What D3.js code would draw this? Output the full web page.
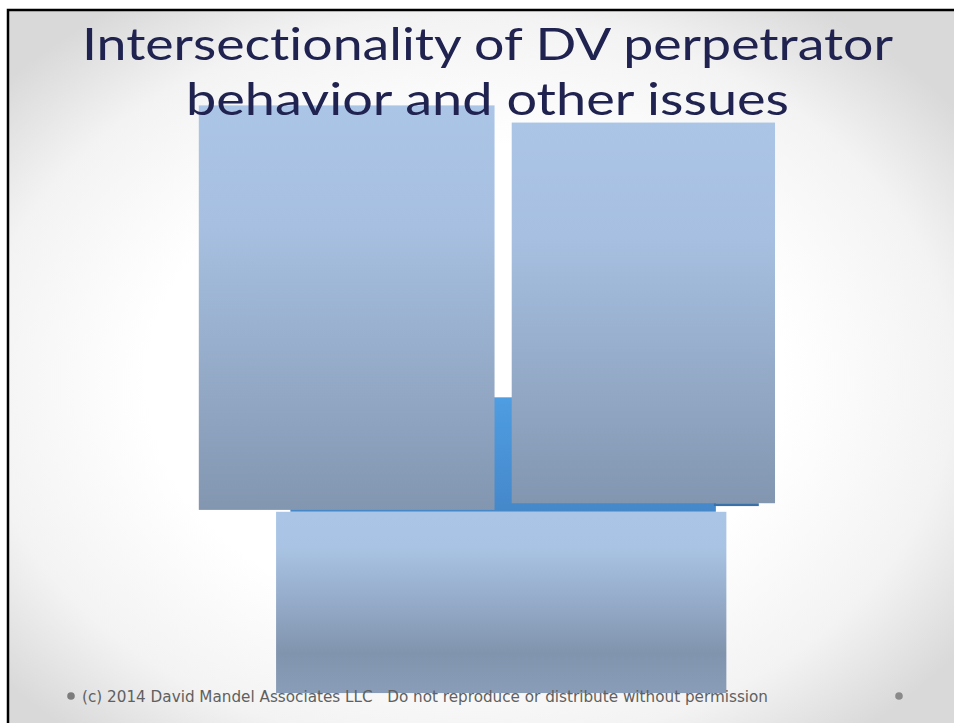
<!DOCTYPE html>
<html>
<head>
<meta charset="utf-8">
<script src="https://cdn.jsdelivr.net/npm/d3@7"></script>
<style>
  html, body { margin: 0; padding: 0; background: #fff; overflow: hidden; }
  svg { display: block; }
  text { font-variant-ligatures: none; font-feature-settings: "liga" 0; }
</style>
</head>
<body>
<svg id="slide" width="954" height="723"></svg>
<script>
// slide content, in inches on a 10 x 7.5 slide
var titleLines = ["Intersectionality of DV perpetrator", "behavior and other issues"];
var footerText = "(c) 2014 David Mandel Associates LLC   Do not reproduce or distribute without permission";

var boxNames = ["blue", "strip", "left", "right", "bottom"];
var boxX0 = [2.96, 7.40, 2.00, 5.28, 2.81];
var boxX1 = [7.42, 7.87, 5.10, 8.04, 7.53];
var boxY0 = [4.06, 5.17, 1.00, 1.18, 5.26];
var boxY1 = [5.26, 5.20, 5.24, 5.17, 7.16];
var boxFill = ["gBlue", "gStrip", "gGray", "gGray", "gGrayB"];

var svg = d3.select("#slide");
var x = d3.scaleLinear().domain([0, 10]).range([8, 962]);
var y = d3.scaleLinear().domain([0, 7.5]).range([10, 725.5]);

var defs = svg.append("defs");

var bg = defs.append("radialGradient").attr("id", "bg")
    .attr("cx", "0.48").attr("cy", "0.52").attr("r", "0.64");
bg.append("stop").attr("offset", "0.52").attr("stop-color", "#ffffff");
bg.append("stop").attr("offset", "0.8").attr("stop-color", "#f3f3f3");
bg.append("stop").attr("offset", "1").attr("stop-color", "#d9d9d9");

function vgrad(id, stops) {
  var g = defs.append("linearGradient").attr("id", id)
      .attr("x1", 0).attr("y1", 0).attr("x2", 0).attr("y2", 1);
  stops.forEach(function(s) {
    g.append("stop").attr("offset", s[0]).attr("stop-color", s[1]);
  });
}
vgrad("gBlue", [[0, "#4f9de2"], [1, "#4588ca"]]);
vgrad("gStrip", [[0, "#3a71a8"], [1, "#3a71a8"]]);
vgrad("gGray", [[0, "#abc5e7"], [0.3, "#a7c0e1"], [1, "#8296b0"]]);
vgrad("gGrayB", [[0, "#abc5e7"], [0.2, "#a9c3e4"], [0.78, "#8194ae"], [1, "#8a9db8"]]);

// slide background + frame
svg.append("rect")
    .attr("x", x(0)).attr("y", y(0))
    .attr("width", x(10) - x(0)).attr("height", y(7.5) - y(0))
    .attr("fill", "url(#bg)")
    .attr("stroke", "#000").attr("stroke-width", 2.5);

// boxes
var boxes = boxNames.map(function(n, i) {
  return {name: n, x0: boxX0[i], x1: boxX1[i], y0: boxY0[i], y1: boxY1[i], fill: boxFill[i]};
});

svg.append("g").selectAll("rect")
  .data(boxes)
  .enter().append("rect")
    .attr("class", function(d) { return "box " + d.name; })
    .attr("x", function(d) { return x(d.x0); })
    .attr("y", function(d) { return y(d.y0); })
    .attr("width", function(d) { return x(d.x1) - x(d.x0); })
    .attr("height", function(d) { return y(d.y1) - y(d.y0); })
    .attr("fill", function(d) { return "url(#" + d.fill + ")"; });

// title (drawn after the boxes, it sits on top)
var titleWidths = [811, 603];
svg.append("g").selectAll("text")
  .data(titleLines)
  .enter().append("text")
    .attr("x", 487.5)
    .attr("y", function(d, i) { return 60 + i * 55; })
    .attr("text-anchor", "middle")
    .attr("font-family", "Lato, sans-serif")
    .attr("font-size", 45)
    .attr("fill", "#20234f")
    .attr("textLength", function(d, i) { return titleWidths[i]; })
    .attr("lengthAdjust", "spacingAndGlyphs")
    .text(function(d) { return d; });

// footer
var foot = svg.append("g").attr("class", "footer");
foot.append("circle").attr("cx", 71).attr("cy", 696).attr("r", 3.8).attr("fill", "#7c7c7c");
foot.append("circle").attr("cx", 899).attr("cy", 696).attr("r", 3.8).attr("fill", "#8a8a8a");
foot.append("text")
    .attr("x", 82).attr("y", 702)
    .attr("font-family", "'DejaVu Sans', sans-serif")
    .attr("font-size", 15)
    .attr("fill", "#606060")
    .attr("textLength", 686)
    .attr("lengthAdjust", "spacingAndGlyphs")
    .style("white-space", "pre")
    .text(footerText);
</script>
</body>
</html>
